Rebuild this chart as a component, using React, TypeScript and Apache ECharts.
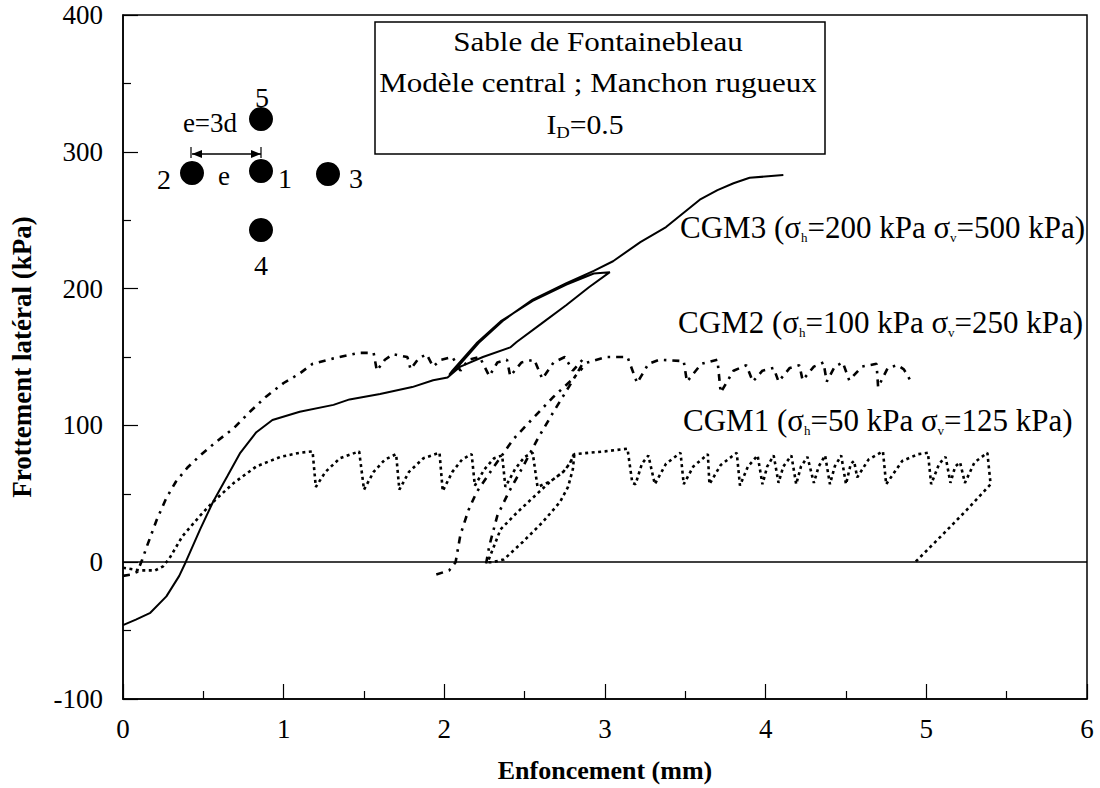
import React, { useEffect, useRef } from "react";
import * as echarts from "echarts";

const FONT = "Liberation Serif";

const xAxisMin = 0;
const xAxisMax = 6;
const yAxisMin = -100;
const yAxisMax = 400;

const seriesLabels = [
  "CGM3 (σh=200 kPa σv=500 kPa)",
  "CGM2 (σh=100 kPa σv=250 kPa)",
  "CGM1 (σh=50 kPa σv=125 kPa)",
];

// CGM3 – solid line
const cgm3: number[][] = [
  [0, -46], [0.08, -42], [0.17, -37], [0.27, -25], [0.35, -10], [0.39, 0], [0.48, 24], [0.56, 44],
  [0.65, 63], [0.73, 80], [0.83, 95], [0.93, 104], [1.1, 110], [1.31, 115], [1.41, 119], [1.6, 123],
  [1.8, 128], [1.93, 133], [2.02, 135], [2.1, 143], [2.24, 150], [2.41, 157], [2.45, 161], [2.6, 174],
  [2.76, 188], [2.9, 201], [3.03, 212], [2.93, 211], [2.76, 203], [2.55, 191], [2.35, 176], [2.2, 160],
  [2.05, 140], [2.03, 137], [2.07, 141], [2.22, 161], [2.37, 177], [2.55, 192], [2.76, 204], [2.93, 213],
  [3.05, 220], [3.22, 234], [3.38, 245], [3.59, 265], [3.7, 272], [3.8, 277], [3.9, 281], [4.11, 283],
];

// CGM2 – dash-dot line (main path, two reloading branches, continuation)
const cgm2Loading: number[][] = [
  [0, -10], [0.05, -9], [0.09, -7], [0.12, 2], [0.15, 12], [0.21, 31], [0.27, 47], [0.33, 59],
  [0.4, 69], [0.48, 78], [0.58, 88], [0.69, 98], [0.79, 110], [0.89, 121], [1.0, 131], [1.1, 138],
  [1.18, 145], [1.31, 149], [1.47, 153], [1.56, 153], [1.58, 140], [1.63, 148], [1.68, 152], [1.77, 150],
  [1.79, 141], [1.84, 149], [1.89, 152], [1.93, 143], [1.98, 148], [2.05, 150], [2.1, 140], [2.15, 148],
  [2.22, 150], [2.28, 136], [2.33, 146], [2.39, 148], [2.41, 136], [2.48, 146], [2.56, 148], [2.61, 134],
  [2.68, 146], [2.75, 150], [2.8, 140], [2.86, 148],
];
const cgm2ReloadA: number[][] = [
  [1.95, -9], [2.03, -6], [2.07, 0], [2.1, 20], [2.15, 38], [2.2, 51], [2.31, 70], [2.43, 90],
  [2.55, 105], [2.68, 121], [2.8, 134], [2.86, 142],
];
const cgm2ReloadB: number[][] = [
  [2.26, -1], [2.28, 12], [2.33, 34], [2.4, 51], [2.49, 70], [2.58, 90], [2.68, 110], [2.79, 131],
  [2.86, 145], [2.89, 146], [3.01, 150], [3.14, 150], [3.2, 131], [3.27, 145], [3.34, 148], [3.49, 147],
  [3.51, 132], [3.6, 145], [3.7, 148], [3.72, 124], [3.8, 140], [3.88, 144], [3.92, 132], [3.98, 140],
  [4.05, 142], [4.08, 132], [4.15, 142], [4.21, 144], [4.23, 133], [4.3, 143], [4.36, 146], [4.38, 132],
  [4.43, 143], [4.48, 146], [4.52, 133], [4.6, 143], [4.69, 145], [4.7, 128], [4.76, 142], [4.82, 144],
  [4.86, 141], [4.91, 131],
];

// CGM1 – dotted line
const cgm1: number[][] = [
  [0, -4], [0.1, -6], [0.2, -6], [0.25, -3], [0.29, 3], [0.37, 19], [0.48, 34], [0.56, 44],
  [0.69, 58], [0.83, 70], [0.98, 77], [1.1, 80], [1.18, 81],
  [1.2, 55], [1.26, 66], [1.35, 76], [1.47, 81],
  [1.5, 53], [1.56, 66], [1.63, 75], [1.7, 79],
  [1.72, 53], [1.78, 66], [1.87, 76], [1.97, 80],
  [1.99, 52], [2.05, 66], [2.11, 75], [2.17, 79],
  [2.19, 56], [2.25, 68], [2.31, 76], [2.36, 78],
  [2.38, 55], [2.44, 68], [2.5, 77], [2.55, 80],
  [2.58, 55], [2.66, 59], [2.74, 66], [2.78, 72], [2.81, 80],
  [2.8, 68], [2.77, 55], [2.72, 44], [2.61, 29], [2.49, 15], [2.37, 2], [2.3, 0], [2.27, 0],
  [2.35, 24], [2.45, 36], [2.55, 47], [2.66, 59], [2.74, 66], [2.78, 72], [2.81, 79],
  [2.9, 80], [3.0, 81], [3.14, 83],
  [3.17, 58], [3.19, 57], [3.23, 72], [3.27, 78], [3.31, 57], [3.38, 72], [3.47, 80], [3.49, 57],
  [3.55, 70], [3.64, 79], [3.65, 57], [3.72, 71], [3.82, 80], [3.84, 56], [3.89, 70], [3.95, 78],
  [3.98, 57], [4.01, 70], [4.05, 78], [4.08, 58], [4.11, 70], [4.16, 78], [4.19, 57], [4.22, 70],
  [4.26, 77], [4.3, 58], [4.33, 70], [4.37, 78], [4.4, 57], [4.43, 70], [4.47, 78], [4.5, 57],
  [4.53, 72], [4.55, 74], [4.57, 62], [4.64, 75], [4.73, 81], [4.75, 57], [4.85, 74], [4.95, 79],
  [5.01, 80], [5.03, 57], [5.08, 72], [5.12, 77], [5.15, 58], [5.18, 70], [5.21, 73], [5.24, 58],
  [5.3, 73], [5.38, 80], [5.4, 57],
  [5.25, 38], [5.1, 20], [4.93, 0],
];

const DASH_DOT = [7, 6, 2.5, 6];
const DOTTED = [3, 3.5];

const baseLine = (type: any, width = 2.2) => ({
  type: "line",
  showSymbol: false,
  symbol: "none",
  smooth: false,
  silent: true,
  lineStyle: { color: "#000", width, type, cap: "butt" },
});

export default function App() {
  const ref = useRef<HTMLDivElement>(null);
  useEffect(() => {
    const chart = echarts.init(ref.current!, null, { renderer: "svg" });
    const txt = (text: string, x: number, y: number, size = 27, align = "center", extra: any = {}) => ({
      type: "text",
      x,
      y,
      silent: true,
      style: {
        text,
        fill: "#000",
        fontSize: size,
        fontFamily: FONT,
        align,
        verticalAlign: "middle",
        ...extra,
      },
    });
    const subLabel = (label: string) => {
      const parts = label.split(/σ([hv])/);
      let s = "";
      parts.forEach((p, i) => {
        if (i % 2 === 0) s += `{a|${p}${i < parts.length - 1 ? "σ" : ""}}`;
        else s += `{b|${p}}`;
      });
      return s;
    };
    const richLabel = (label: string, x: number, y: number) => ({
      type: "text",
      x,
      y,
      silent: true,
      style: {
        text: subLabel(label),
        align: "left",
        verticalAlign: "middle",
        rich: {
          a: { fontSize: 31, fontFamily: FONT, fill: "#000", lineHeight: 34, verticalAlign: "middle" },
          b: { fontSize: 13, fontFamily: FONT, fill: "#000", lineHeight: 24, verticalAlign: "bottom" },
        },
      },
    });

    const option: any = {
      animation: false,
      backgroundColor: "#fff",
      grid: {
        left: 123,
        top: 15,
        right: 13,
        bottom: 88,
        show: true,
        borderColor: "#000",
        borderWidth: 1.5,
        backgroundColor: "transparent",
      },
      xAxis: {
        type: "value",
        min: xAxisMin,
        max: xAxisMax,
        interval: 1,
        name: "Enfoncement (mm)",
        nameLocation: "middle",
        nameGap: 58,
        nameTextStyle: { fontFamily: FONT, fontSize: 26, fontWeight: "bold", color: "#000" },
        axisLine: { show: true, onZero: false, lineStyle: { color: "#000", width: 1.5 } },
        axisTick: { show: true, inside: true, length: 15, lineStyle: { color: "#000", width: 1.2 } },
        minorTick: { show: true, splitNumber: 2, length: 8, lineStyle: { color: "#000", width: 1.2 } },
        splitLine: { show: false },
        axisLabel: { fontFamily: FONT, fontSize: 27, color: "#000", margin: 16 },
      },
      yAxis: {
        type: "value",
        min: yAxisMin,
        max: yAxisMax,
        interval: 100,
        name: "Frottement latéral (kPa)",
        nameLocation: "middle",
        nameRotate: 90,
        nameGap: 88,
        nameTextStyle: { fontFamily: FONT, fontSize: 27, fontWeight: "bold", color: "#000" },
        axisLine: { show: true, onZero: false, lineStyle: { color: "#000", width: 1.5 } },
        axisTick: { show: true, inside: true, length: 15, lineStyle: { color: "#000", width: 1.2 } },
        minorTick: { show: true, splitNumber: 2, length: 8, lineStyle: { color: "#000", width: 1.2 } },
        splitLine: { show: false },
        axisLabel: { fontFamily: FONT, fontSize: 27, color: "#000", margin: 20 },
      },
      series: [
        {
          ...baseLine("solid", 2),
          name: "CGM3",
          data: cgm3,
          markLine: {
            silent: true,
            symbol: "none",
            label: { show: false },
            lineStyle: { color: "#000", type: "solid", width: 1.5 },
            data: [{ yAxis: 0 }],
          },
        },
        { ...baseLine(DASH_DOT, 2.6), name: "CGM2", data: cgm2Loading },
        { ...baseLine(DASH_DOT, 2.6), name: "CGM2b", data: cgm2ReloadA },
        { ...baseLine(DASH_DOT, 2.6), name: "CGM2c", data: cgm2ReloadB },
        { ...baseLine(DOTTED, 2.6), name: "CGM1", data: cgm1 },
      ],
      graphic: [
        {
          type: "rect",
          silent: true,
          shape: { x: 375, y: 22, width: 450, height: 132 },
          style: { fill: "#fff", stroke: "#000", lineWidth: 1.5 },
        },
        { ...txt("Sable de Fontainebleau", 598, 42, 27), scaleX: 1.15 },
        { ...txt("Modèle central ; Manchon rugueux", 598, 83, 27), scaleX: 1.15 },
        {
          type: "text",
          x: 585,
          y: 125,
          silent: true,
          scaleX: 1.1,
          style: {
            text: "{a|I}{b|D}{a|=0.5}",
            align: "center",
            verticalAlign: "middle",
            rich: {
              a: { fontSize: 27, fontFamily: FONT, fill: "#000", lineHeight: 32 },
              b: { fontSize: 17, fontFamily: FONT, fill: "#000", lineHeight: 29, verticalAlign: "bottom" },
            },
          },
        },
        richLabel(seriesLabels[0], 680, 227),
        richLabel(seriesLabels[1], 678, 322),
        richLabel(seriesLabels[2], 683, 420),
        // inset: pile layout
        { type: "circle", silent: true, shape: { cx: 261, cy: 119, r: 12 }, style: { fill: "#000" } },
        { type: "circle", silent: true, shape: { cx: 192, cy: 173, r: 12 }, style: { fill: "#000" } },
        { type: "circle", silent: true, shape: { cx: 261, cy: 171, r: 12 }, style: { fill: "#000" } },
        { type: "circle", silent: true, shape: { cx: 328, cy: 174, r: 12 }, style: { fill: "#000" } },
        { type: "circle", silent: true, shape: { cx: 261, cy: 230, r: 12 }, style: { fill: "#000" } },
        txt("5", 262, 97, 28),
        txt("e=3d", 210, 123, 27),
        txt("2", 164, 179, 28),
        txt("e", 224, 176, 27),
        txt("1", 285, 178, 28),
        txt("3", 356, 178, 28),
        txt("4", 261, 265, 28),
        { type: "line", silent: true, shape: { x1: 192, y1: 154, x2: 261, y2: 154 }, style: { stroke: "#000", lineWidth: 1.5 } },
        { type: "line", silent: true, shape: { x1: 191, y1: 147, x2: 191, y2: 158 }, style: { stroke: "#000", lineWidth: 1.2 } },
        { type: "line", silent: true, shape: { x1: 261, y1: 147, x2: 261, y2: 158 }, style: { stroke: "#000", lineWidth: 1.2 } },
        { type: "polygon", silent: true, shape: { points: [[192, 154], [202, 150], [202, 158]] }, style: { fill: "#000" } },
        { type: "polygon", silent: true, shape: { points: [[261, 154], [251, 150], [251, 158]] }, style: { fill: "#000" } },
      ],
    };
    chart.setOption(option);
    return () => chart.dispose();
  }, []);
  return (
    <div
      ref={ref}
      style={{ position: "absolute", left: 0, top: 0, width: 1100, height: 788, background: "#fff" }}
    />
  );
}
